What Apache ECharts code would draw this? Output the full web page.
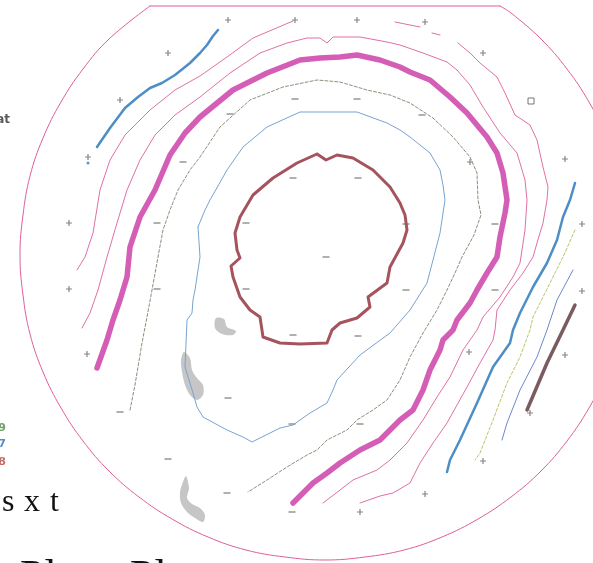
<!DOCTYPE html>
<html>
<head>
<meta charset="utf-8">
<script src="https://cdn.jsdelivr.net/npm/echarts@6/dist/echarts.min.js"></script>
<style>
  html, body { margin: 0; padding: 0; background: #fff; }
  #wafer { width: 593px; height: 563px; }
</style>
</head>
<body>
<div id="wafer"></div>
<script>
// wafer map, contour lines (x, y in picture units)

// wafer outline: round edge plus the flat on top
let outlineArc = [[150,6],[109,39],[83,69],[61,102],[43,138],[30,176],[23,215],[20,255],[23,295],[30,334],[43,372],[61,408],[83,441],[109,471],[139,497],[172,519],[208,537],[246,550],[285,557],[325,560],[365,557],[404,550],[442,537],[478,519],[511,497],[541,471],[567,441],[589,408],[607,372],[620,334],[627,295],[630,255],[627,215],[620,176],[607,138],[589,102],[567,69],[541,39],[511,13],[500,6]];
let outlineFlat = [[150,6],[500,6]];

// blue contour, upper left
let blueTopLeft = [[97,147],[110,128],[125,108],[138,97],[150,88],[162,83],[175,75],[190,63],[200,53],[207,45],[213,36],[218,30]];

// outer pink, split in pieces
let pinkA1 = [[77,270],[85,257],[93,233],[100,190],[110,160],[125,135],[150,110],[175,90],[200,76],[227,57],[253,38],[293,21]];
let pinkA2 = [[395,22],[420,27]];
let pinkA3 = [[432,33],[440,35]];
let pinkA4 = [[458,43],[470,53],[480,63],[497,77],[505,93],[515,115],[530,125],[537,140],[543,167],[548,187],[547,200],[543,223],[537,243],[533,257],[523,273],[510,290],[497,310],[495,330],[493,340],[480,363],[467,387],[447,423],[433,443],[420,463],[410,483],[393,493],[380,496],[360,503]];

// inner pink
let pinkB = [[82,328],[90,313],[98,290],[107,257],[117,223],[127,190],[140,160],[155,135],[175,115],[200,97],[230,73],[260,53],[287,43],[307,38],[320,38],[327,43],[333,37],[360,37],[387,42],[400,45],[423,53],[447,62],[457,70],[470,85],[483,107],[500,133],[517,153],[525,180],[527,200],[525,230],[520,263],[513,277],[500,297],[483,317],[477,330],[463,350],[450,377],[437,397],[423,420],[407,443],[390,460],[377,470],[353,480],[340,490],[323,503]];

// thick magenta contour
let magenta = [[97,368],[107,340],[113,320],[120,300],[127,277],[130,247],[140,217],[155,190],[170,155],[185,133],[200,117],[233,90],[267,73],[300,60],[320,58],[340,57],[357,55],[380,60],[400,67],[410,72],[430,80],[450,97],[467,113],[487,137],[497,153],[503,173],[507,200],[505,213],[500,237],[497,257],[487,273],[477,290],[470,303],[457,320],[453,330],[443,340],[440,350],[430,370],[423,390],[413,410],[400,420],[380,440],[360,450],[340,463],[327,473],[313,483],[293,503]];

// grey dashed contour
let greyDash = [[130,410],[133,395],[135,385],[142,343],[147,317],[152,290],[158,257],[163,230],[170,210],[178,190],[190,170],[200,157],[220,127],[250,100],[283,87],[317,80],[340,82],[367,90],[390,95],[410,103],[433,118],[453,137],[470,157],[477,173],[478,200],[481,215],[474,235],[462,257],[455,273],[447,290],[437,310],[423,333],[410,357],[400,380],[387,400],[373,410],[357,420],[347,430],[327,440],[317,450],[307,455],[287,467],[267,480],[248,492]];

// thin blue closed contour
let blueLoop = [[198,227],[200,257],[195,290],[193,300],[192,313],[187,320],[185,367],[193,393],[197,407],[203,417],[227,430],[243,437],[252,442],[260,438],[280,428],[293,425],[310,413],[327,403],[333,390],[337,380],[360,355],[390,333],[410,310],[427,283],[433,260],[440,233],[445,200],[443,185],[440,170],[430,153],[410,137],[400,130],[387,123],[357,112],[300,112],[267,127],[243,147],[227,170],[210,200],[205,210],[198,227]];

// brown centre loop
let brownLoop = [[317,154],[326,160],[337,155],[353,158],[373,170],[390,187],[400,203],[405,215],[407,230],[403,243],[390,267],[387,283],[368,297],[370,307],[357,318],[340,323],[332,330],[327,343],[300,344],[280,343],[263,337],[260,317],[250,310],[240,297],[233,277],[231,266],[240,258],[237,250],[235,233],[240,217],[253,195],[273,178],[297,163],[317,154]];

// lines on the right edge
let blueRight = [[575,183],[570,200],[563,217],[557,240],[547,263],[533,287],[520,313],[513,330],[510,343],[493,367],[477,403],[460,440],[450,460],[447,472]];
let oliveRight = [[575,230],[563,257],[550,283],[533,317],[530,330],[520,357],[507,383],[493,420],[480,453],[475,460]];
let violetRight = [[573,270],[557,300],[547,330],[537,357],[520,390],[507,423],[502,440]];
let brownRight = [[575,305],[563,330],[547,363],[527,410]];

// grey blobs
let blob1 = [[216,318],[224,319],[227,327],[236,331],[233,335],[222,334],[215,328]];
let blob2 = [[184,352],[190,358],[192,370],[197,378],[203,385],[203,395],[197,400],[190,395],[185,385],[182,372],[181,360]];
let blob3 = [[186,476],[189,488],[187,498],[192,504],[200,508],[205,515],[203,522],[195,518],[187,512],[181,503],[180,492],[183,482]];

// + and - marks
let plusMarks = [[168,53],[120,100],[88,157],[228,20],[295,20],[357,20],[425,22],[483,53],[565,159],[470,162],[69,223],[69,289],[87,354],[582,224],[582,291],[565,355],[469,352],[530,413],[483,461],[425,494],[360,512]];
let minusMarks = [[183,162],[230,114],[295,99],[357,99],[422,115],[293,178],[358,178],[246,223],[326,257],[246,289],[293,335],[358,336],[157,223],[157,289],[406,224],[495,224],[406,290],[495,290],[228,398],[292,424],[360,424],[227,493],[292,512],[120,412],[168,459]];
let squareMarks = [[531,101]];
let dotMarks = [[88,163]];

let chart = echarts.init(document.getElementById('wafer'));

function contour(data, color, width, dash, smooth) {
    return {
        type: 'line',
        data: data,
        symbol: 'none',
        smooth: smooth || false,
        silent: true,
        animation: false,
        lineStyle: { color: color, width: width, type: dash || 'solid', cap: 'round', join: 'round' }
    };
}

function blob(data) {
    return {
        type: 'custom',
        silent: true,
        animation: false,
        data: [0],
        renderItem: function (params, api) {
            let pts = data.map(function (p) { return api.coord(p); });
            return { type: 'polygon', shape: { points: pts, smooth: 0.3 }, style: { fill: '#c6c6c6' } };
        }
    };
}

let plusPath = 'path://M2.4,0H3.6V2.4H6V3.6H3.6V6H2.4V3.6H0V2.4H2.4Z';

let option = {
    backgroundColor: '#ffffff',
    grid: { left: 0, right: 0, top: 0, bottom: 0 },
    xAxis: { type: 'value', min: 0, max: 593, show: false },
    yAxis: { type: 'value', min: 0, max: 563, inverse: true, show: false },
    graphic: [
        { type: 'text', style: { text: 'at', x: 10, y: 120, textAlign: 'right', textVerticalAlign: 'middle', font: 'bold 12px "DejaVu Sans"', fill: '#5a5a5a' } },
        { type: 'text', style: { text: '9', x: 6, y: 428, textAlign: 'right', textVerticalAlign: 'middle', font: 'bold 11px "DejaVu Sans"', fill: '#6fa564' } },
        { type: 'text', style: { text: '7', x: 6, y: 444, textAlign: 'right', textVerticalAlign: 'middle', font: 'bold 11px "DejaVu Sans"', fill: '#5b8cc6' } },
        { type: 'text', style: { text: '8', x: 6, y: 462, textAlign: 'right', textVerticalAlign: 'middle', font: 'bold 11px "DejaVu Sans"', fill: '#c46c6a' } },
        { type: 'text', style: { text: 's', x: 2, y: 503, textVerticalAlign: 'middle', font: '32px "Liberation Serif"', fill: '#111' } },
        { type: 'text', style: { text: 'x', x: 24, y: 503, textVerticalAlign: 'middle', font: '32px "Liberation Serif"', fill: '#111' } },
        { type: 'text', style: { text: 't', x: 50, y: 503, textVerticalAlign: 'middle', font: '32px "Liberation Serif"', fill: '#111' } },
        { type: 'text', style: { text: 'Pl', x: 20, y: 578, textVerticalAlign: 'middle', font: '44px "Liberation Serif"', fill: '#111' } },
        { type: 'text', style: { text: 'Pl', x: 130, y: 578, textVerticalAlign: 'middle', font: '44px "Liberation Serif"', fill: '#111' } }
    ],
    series: [
        contour(outlineArc, '#dc5f9c', 1, 'solid', 0.4),
        contour(outlineFlat, '#dc5f9c', 1),
        blob(blob1),
        blob(blob2),
        blob(blob3),
        contour(blueTopLeft, '#4d8ec6', 2.5),
        contour(pinkA1, '#e070a6', 1),
        contour(pinkA2, '#e070a6', 1),
        contour(pinkA3, '#e070a6', 1),
        contour(pinkA4, '#e070a6', 1),
        contour(pinkB, '#e070a6', 1),
        contour(magenta, '#d45db5', 5.5),
        contour(greyDash, '#8d8f7c', 1, [3, 2]),
        contour(blueLoop, '#79a3d2', 1),
        contour(brownLoop, '#a5535d', 3),
        contour(blueRight, '#4d8ec6', 2.5),
        contour(oliveRight, '#b9c46c', 1, [3, 2]),
        contour(violetRight, '#6f86cf', 1),
        contour(brownRight, '#7a5c60', 3.5),
        {
            type: 'scatter', data: plusMarks, symbol: plusPath, symbolSize: 6,
            itemStyle: { color: '#666' }, silent: true, animation: false
        },
        {
            type: 'scatter', data: minusMarks, symbol: 'rect', symbolSize: [7, 1.3],
            itemStyle: { color: '#666' }, silent: true, animation: false
        },
        {
            type: 'scatter', data: squareMarks, symbol: 'rect', symbolSize: 6,
            itemStyle: { color: '#fff', borderColor: '#555', borderWidth: 1 }, silent: true, animation: false
        },
        {
            type: 'scatter', data: dotMarks, symbol: 'circle', symbolSize: 3,
            itemStyle: { color: '#4d6ec6' }, silent: true, animation: false
        }
    ]
};

chart.setOption(option);
</script>
</body>
</html>
